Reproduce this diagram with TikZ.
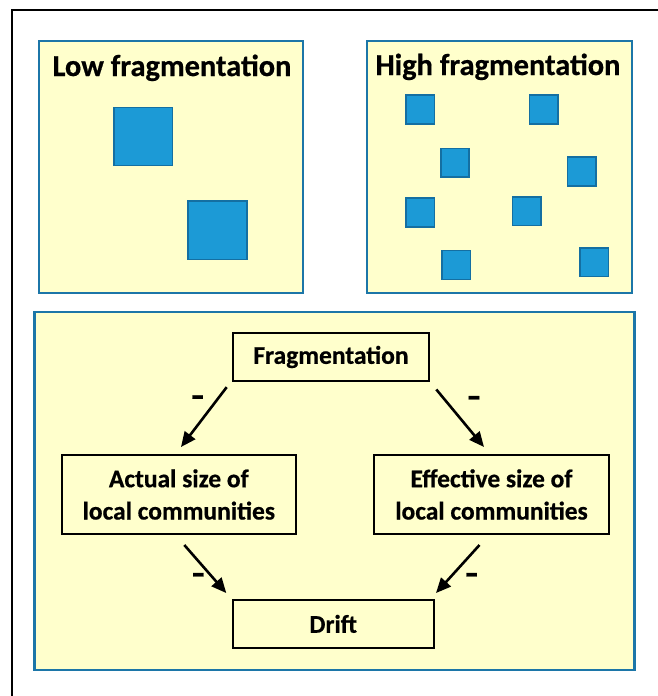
\documentclass[tikz,border=0pt]{standalone}
\usepackage{fontspec}
\setmainfont{Carlito}[BoldFeatures={FakeBold=0.6}]
\usetikzlibrary{arrows.meta,calc}
\definecolor{paneyellow}{HTML}{FFFFCC}
\definecolor{paneblue}{HTML}{1C76A8}
\definecolor{sqfill}{HTML}{1C9AD6}
\definecolor{sqborder}{HTML}{146FA2}
\tikzset{
  panel/.style={draw=paneblue, line width=2.2pt, fill=paneyellow},
  patch/.style={draw=sqborder, line width=1.6pt, fill=sqfill},
  titletext/.style={font=\bfseries\fontsize{30.4}{36}\selectfont, anchor=base, inner sep=0pt},
  factor/.style={draw=black, line width=2pt, fill=paneyellow, align=center,
    font=\bfseries\fontsize{25.5}{32.3}\selectfont, inner sep=0pt},
  arr/.style={line width=2.6pt, -{Triangle[length=15pt,width=13pt]}},
  minus/.style={font=\bfseries\fontsize{25.5}{30}\selectfont, anchor=center, inner sep=0pt}
}
\begin{document}
\begin{tikzpicture}[x=1pt,y=-1pt]
\useasboundingbox (0,0) rectangle (658,696);
\clip (0,0) rectangle (658,696);
\fill[white] (0,0) rectangle (658,696);
% outer frame (cut by the picture edge)
\draw[line width=2.4pt] (12,710) -- (12,10) -- (670,10);
% top panels
\draw[panel] (39,41) rectangle (303,293);
\draw[panel] (367,41) rectangle (632,293);
\node[titletext] (lowt) at (172,76) {Low fragmentation};
\node[titletext] (hight) at (498,75) {High fragmentation};
% low fragmentation patches
\draw[patch] (113.7,107.3) rectangle (172.3,165.3);
\draw[patch] (187.7,200.7) rectangle (247,259.3);
% high fragmentation patches
\draw[patch] (406,95) rectangle (434.3,124);
\draw[patch] (529.3,95) rectangle (557.7,124);
\draw[patch] (440.7,148.3) rectangle (469,177);
\draw[patch] (567.3,157) rectangle (595.7,185.7);
\draw[patch] (406,198) rectangle (434.3,227);
\draw[patch] (512.3,196.7) rectangle (540.7,225.3);
\draw[patch] (442,250.3) rectangle (470.3,279.3);
\draw[patch] (580,247.7) rectangle (608.3,276.3);
% bottom panel
\draw[panel] (34.5,312) rectangle (634.5,670);
% factor nodes
\node[factor, minimum width=196.6pt, minimum height=48.3pt] (frag) at (331,357) {Fragmentation};
\node[factor, minimum width=233.7pt, minimum height=79.6pt] (actual) at (178.8,494.5) {Actual size of\\local communities};
\node[factor, minimum width=235.6pt, minimum height=79.6pt] (eff) at (491.5,494.5) {Effective size of\\local communities};
\node[factor, minimum width=201pt, minimum height=47.7pt] (drift) at (333.2,623.9) {Drift};
% arrows
\draw[arr] ($(frag.south west)+(-5,5)$) -- ($(actual.north)+(2.2,-6.7)$);
\draw[arr] ($(frag.south east)+(6,7.3)$) -- ($(eff.north)+(-7.5,-6.7)$);
\draw[arr] ($(actual.south)+(5.5,9.7)$) -- ($(drift.north west)+(-5.4,-6)$);
\draw[arr] ($(eff.south)+(-12,9.7)$) -- ($(drift.north east)+(1.3,-6)$);
% minus signs
\node[minus] (m1) at (197.7,401.7) {\scalebox{1.15}[1.5]{–}};
\node[minus] (m2) at (474,402.3) {\scalebox{1.15}[1.5]{–}};
\node[minus] (m3) at (198.3,579.3) {\scalebox{1.15}[1.5]{–}};
\node[minus] (m4) at (471.7,579.3) {\scalebox{1.15}[1.5]{–}};
\end{tikzpicture}
\end{document}
